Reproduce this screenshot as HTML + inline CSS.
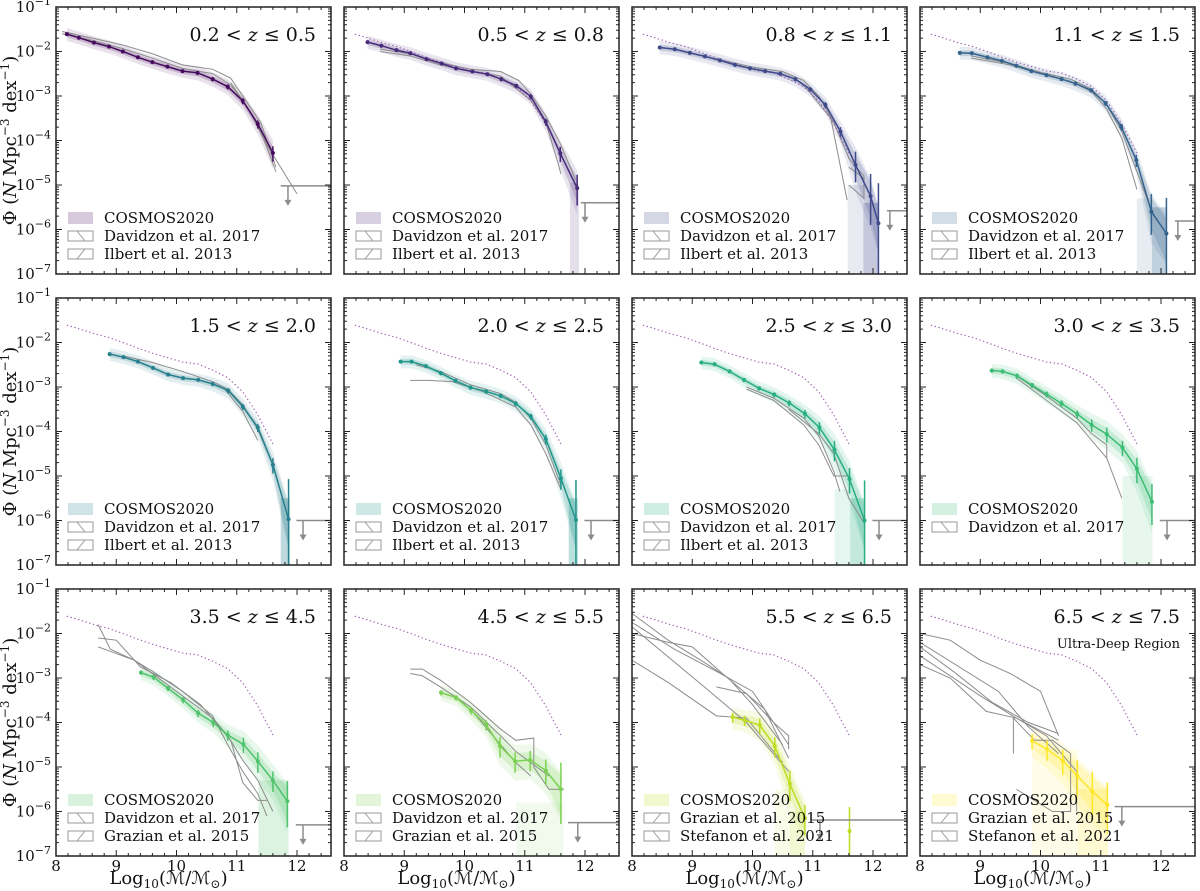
<!DOCTYPE html>
<html><head><meta charset="utf-8"><title>Stellar mass functions</title>
<style>
html,body{margin:0;padding:0;background:#fff;}
svg{display:block;font-family:"DejaVu Serif","Liberation Serif",serif;}
</style></head>
<body>
<svg id="chart" xmlns="http://www.w3.org/2000/svg" width="1200" height="891" viewBox="0 0 1200 891"></svg>
<script>
// ---- data (log10 mass, log10 Phi) ----
const zLabels = ["0.2","0.5","0.8","1.1","1.5","2.0","2.5","3.0","3.5","4.5","5.5","6.5","7.5"];
const colors = ["#460b5e","#472b7a","#3f4a8a","#33628d","#277f8e","#1f968b","#27ad81","#3dbc74","#4ec36b","#7ad151","#bcdd22","#fde725"];
const refMass = [8.18,8.38,8.63,8.88,9.11,9.36,9.6,9.85,10.1,10.35,10.6,10.85,11.1,11.35,11.6];
const refPhi = [-1.61,-1.69,-1.80,-1.89,-2.00,-2.13,-2.24,-2.34,-2.44,-2.48,-2.62,-2.79,-3.11,-3.63,-4.28];
const cosmosMass = [
 [8.18,8.38,8.63,8.88,9.11,9.36,9.6,9.85,10.1,10.35,10.6,10.85,11.1,11.35,11.6],
 [8.39,8.62,8.87,9.1,9.37,9.62,9.86,10.13,10.38,10.61,10.86,11.1,11.35,11.59,11.87],
 [8.46,8.71,8.96,9.21,9.46,9.71,9.96,10.21,10.46,10.71,10.96,11.21,11.46,11.71,11.96,12.09],
 [8.66,8.86,9.12,9.36,9.6,9.85,10.1,10.35,10.58,10.84,11.08,11.34,11.59,11.84,12.09],
 [8.89,9.12,9.36,9.61,9.86,10.11,10.36,10.6,10.86,11.1,11.35,11.6,11.86],
 [8.94,9.12,9.36,9.61,9.85,10.1,10.36,10.6,10.85,11.1,11.35,11.6,11.85],
 [9.15,9.37,9.62,9.86,10.11,10.36,10.61,10.87,11.11,11.36,11.61,11.86],
 [9.19,9.37,9.61,9.86,10.1,10.35,10.61,10.85,11.1,11.36,11.6,11.85],
 [9.41,9.62,9.86,10.11,10.36,10.61,10.85,11.11,11.35,11.6,11.84],
 [9.61,9.86,10.11,10.36,10.59,10.84,11.09,11.35,11.6],
 [9.67,9.87,10.12,10.37,10.62,10.87],
 [9.86,10.11,10.37,10.61,10.86,11.11]
];
const cosmosPhi = [
 [-1.61,-1.69,-1.80,-1.89,-2.00,-2.13,-2.24,-2.34,-2.44,-2.48,-2.62,-2.79,-3.11,-3.63,-4.28],
 [-1.79,-1.87,-1.97,-2.04,-2.17,-2.27,-2.38,-2.45,-2.51,-2.62,-2.77,-3.01,-3.58,-4.29,-5.07],
 [-1.91,-1.95,-2.03,-2.11,-2.20,-2.30,-2.38,-2.44,-2.50,-2.62,-2.85,-3.20,-3.80,-4.55,-5.25,-5.86],
 [-2.03,-2.04,-2.13,-2.21,-2.32,-2.44,-2.53,-2.62,-2.72,-2.87,-3.16,-3.69,-4.44,-5.60,-6.09],
 [-2.26,-2.33,-2.43,-2.57,-2.72,-2.80,-2.84,-2.93,-3.08,-3.44,-3.91,-4.75,-5.97],
 [-2.43,-2.43,-2.53,-2.69,-2.86,-3.01,-3.10,-3.20,-3.37,-3.66,-4.17,-5.05,-5.99],
 [-2.45,-2.49,-2.65,-2.84,-3.03,-3.17,-3.36,-3.60,-3.91,-4.41,-5.07,-6.00],
 [-2.63,-2.65,-2.75,-2.96,-3.16,-3.37,-3.61,-3.85,-4.06,-4.36,-4.84,-5.58],
 [-2.88,-2.98,-3.23,-3.49,-3.79,-4.00,-4.28,-4.49,-4.87,-5.30,-5.77],
 [-3.33,-3.44,-3.73,-4.05,-4.53,-4.87,-4.84,-5.08,-5.50],
 [-3.88,-3.95,-4.06,-4.53,-5.38,-6.15],
 [-4.41,-4.60,-4.86,-5.20,-5.55,-5.85]
];
const cosmosErr = [
 [.03,.03,.03,.03,.03,.03,.03,.03,.03,.04,.04,.05,.06,.08,.15],
 [.03,.03,.03,.03,.03,.03,.03,.03,.03,.04,.04,.05,.07,.15,.3],
 [.03,.03,.03,.03,.03,.03,.03,.03,.03,.04,.04,.06,.1,.3,.5,.9],
 [.03,.03,.03,.03,.03,.03,.03,.03,.04,.04,.05,.07,.12,.4,.8],
 [.03,.03,.03,.03,.03,.03,.03,.04,.05,.06,.08,.15,.9],
 [.03,.03,.03,.03,.03,.04,.04,.04,.05,.06,.1,.2,.9],
 [.03,.03,.03,.04,.04,.05,.06,.08,.12,.2,.25,.9],
 [.04,.04,.05,.05,.06,.07,.08,.12,.15,.15,.25,.4],
 [.04,.05,.05,.06,.07,.08,.1,.15,.2,.2,.45],
 [.05,.05,.07,.1,.2,.2,.2,.25,.6],
 [.1,.1,.15,.2,.3,.3],
 [.15,.2,.25,.35,.45,.5]
];
// tail shaded columns: [massFrom, massTo, topLog, opacity]
const tailBands = [
 [],
 [[11.75,11.9,-4.95,0.15]],
 [[11.58,11.84,-5.0,0.12],[11.84,12.1,-5.4,0.3]],
 [[11.6,11.85,-5.3,0.12],[11.85,12.1,-5.5,0.3]],
 [[11.73,11.88,-5.5,0.3]],
 [[11.73,11.88,-5.5,0.3]],
 [[11.36,11.62,-5.3,0.12],[11.62,11.87,-5.5,0.28]],
 [[11.36,11.86,-5.0,0.12]],
 [[11.36,11.86,-5.3,0.2]],
 [[10.86,11.64,-5.8,0.1]],
 [[10.37,10.62,-5.5,0.1],[10.62,10.87,-6.0,0.2]],
 [[9.86,10.62,-4.6,0.1],[10.62,11.12,-5.5,0.2]]
];
// upper limits: [massFrom, log, arrowMass]
const upperLimits = [
 [11.73,-5.02,11.85],[11.93,-5.40,12.0],[12.23,-5.58,12.28],[12.23,-5.81,12.28],
 [11.99,-6.0,12.1],[11.99,-6.0,12.1],[11.99,-6.0,12.1],[11.98,-6.0,12.1],
 [11.98,-6.30,12.1],[11.72,-6.25,11.88],[10.98,-6.19,11.12],[11.23,-5.89,11.35]
];
const greyLines = [
 [[[8.1,-1.55],[8.6,-1.7],[9.1,-1.85],[9.6,-2.05],[10.1,-2.3],[10.6,-2.4],[10.9,-2.6],[11.1,-3.0],[11.4,-3.6],[11.65,-4.6]],
  [[8.1,-1.6],[8.6,-1.75],[9.1,-1.93],[9.6,-2.15],[10.1,-2.38],[10.6,-2.5],[10.9,-2.75],[11.15,-3.2],[11.4,-3.8],[11.65,-4.7]],
  [[10.9,-2.7],[11.2,-3.3],[11.5,-4.1],[12.0,-5.2]]],
 [[[8.6,-1.95],[9.1,-2.05],[9.6,-2.25],[10.1,-2.4],[10.6,-2.45],[10.9,-2.65],[11.1,-2.95],[11.35,-3.45],[11.6,-4.1],[11.85,-4.9]],
  [[8.6,-2.0],[9.1,-2.1],[9.6,-2.3],[10.1,-2.45],[10.6,-2.55],[11.1,-3.1],[11.35,-3.6],[11.55,-4.5],[11.6,-4.75]]],
 [[[9.0,-2.05],[9.5,-2.2],[10.0,-2.35],[10.5,-2.45],[10.85,-2.65],[11.1,-3.0],[11.35,-3.6],[11.6,-4.4],[11.85,-4.8],[11.85,-5.1]],
  [[10.85,-2.75],[11.3,-3.5],[11.57,-5.34]],
  [[11.6,-4.6],[11.85,-4.85],[11.85,-5.3],[11.6,-5.0]]],
 [[[8.85,-2.1],[9.5,-2.27],[10.0,-2.47],[10.5,-2.62],[10.85,-2.85],[11.1,-3.2],[11.35,-3.8],[11.6,-4.7],[11.85,-5.6]],
  [[8.85,-2.15],[9.5,-2.3],[10.0,-2.5],[10.5,-2.67],[10.85,-2.9],[11.1,-3.3],[11.35,-3.95],[11.6,-5.1]]],
 [[[9.1,-2.3],[9.6,-2.45],[10.1,-2.65],[10.6,-2.88],[10.85,-3.05],[11.1,-3.4],[11.35,-3.95],[11.6,-4.75]],
  [[10.8,-3.05],[11.1,-3.55],[11.35,-4.2]]],
 [[[9.2,-2.5],[9.6,-2.65],[10.1,-2.95],[10.6,-3.15],[10.85,-3.35],[11.1,-3.7],[11.35,-4.3],[11.6,-5.2]],
  [[9.1,-2.85],[9.4,-2.85],[9.8,-2.88],[10.3,-3.1],[10.85,-3.45],[11.1,-3.85],[11.35,-4.5],[11.6,-5.3]]],
 [[[9.9,-3.0],[10.35,-3.25],[10.85,-3.7],[11.1,-4.1],[11.35,-4.9],[11.45,-5.35]],
  [[9.9,-3.05],[10.35,-3.3],[10.85,-3.85],[11.1,-4.3],[11.35,-5.0],[11.6,-5.0]],
  [[10.6,-3.5],[11.1,-4.05],[11.35,-4.5],[11.6,-5.5],[11.85,-6.05]]],
 [[[9.6,-2.75],[10.1,-3.2],[10.6,-3.7],[10.85,-4.05],[11.1,-4.3],[11.1,-4.6]],
  [[9.6,-2.8],[10.1,-3.3],[10.6,-3.8],[10.85,-4.2],[11.1,-4.6],[11.35,-5.5]]],
 [[[8.7,-1.8],[8.9,-2.35],[9.3,-2.6],[9.6,-2.9],[10.1,-3.4],[10.6,-3.9],[10.85,-4.3],[11.1,-4.85],[11.35,-5.3],[11.6,-6.0]],
  [[8.7,-2.3],[8.9,-2.4],[9.3,-2.6],[9.6,-2.85],[10.1,-3.3],[10.6,-3.85],[10.85,-4.5],[11.1,-5.1],[11.35,-5.6],[11.5,-6.1]],
  [[8.7,-2.1],[9.0,-2.15],[9.4,-2.75],[9.9,-3.1],[10.4,-3.6],[10.9,-4.4],[11.1,-5.35],[11.35,-5.75],[11.5,-5.75]]],
 [[[9.1,-2.8],[9.3,-2.8],[9.6,-3.05],[10.1,-3.55],[10.6,-4.15],[10.85,-4.4],[11.15,-4.35],[11.15,-5.0],[11.4,-5.5],[11.65,-5.5]],
  [[9.1,-2.9],[9.3,-2.95],[9.6,-3.2],[10.1,-3.65],[10.6,-4.3],[10.85,-4.65],[11.1,-4.9],[11.4,-5.2]],
  [[10.1,-3.7],[10.6,-4.5],[10.85,-4.9],[11.1,-5.2]]],
 [[[8,-1.55],[8.6,-2.15],[9.2,-2.65],[9.6,-3.0],[10.0,-3.6],[10.5,-4.5]],
  [[8,-2.0],[8.6,-2.2],[9.0,-2.3],[9.5,-2.9],[10.2,-3.7],[10.6,-4.8]],
  [[8,-2.6],[8.6,-3.1],[9.4,-3.85],[9.9,-3.9],[10.5,-4.9]],
  [[8,-1.85],[9.2,-3.2],[9.9,-4.0],[10.6,-5.1]],
  [[8,-1.75],[8.7,-2.35],[9.4,-2.85],[10.0,-3.3],[10.5,-4.3],[10.6,-4.5]],
  [[9.4,-3.2],[9.9,-3.35],[10.35,-4.0],[10.6,-4.3],[10.6,-4.6]]],
 [[[8,-2.0],[8.5,-2.15],[9.0,-2.6],[9.5,-2.9],[10.0,-3.3],[10.3,-4.3]],
  [[8,-2.3],[8.6,-2.9],[9.2,-3.55],[9.8,-4.0],[10.3,-4.25]],
  [[8,-2.5],[9,-3.4],[9.6,-3.9],[10.3,-4.4]],
  [[8,-2.7],[8.5,-3.0],[9.1,-3.75],[9.6,-3.9],[10.1,-4.3],[10.6,-5.1],[10.6,-6.0]],
  [[8,-2.2],[9.3,-3.3],[9.8,-4.1],[10.3,-4.7]],
  [[9.55,-4.7],[9.55,-3.9],[9.9,-4.4],[10.2,-4.4],[10.5,-4.7],[10.5,-6.0],[10.2,-6.0],[9.6,-5.5]]]
];
const legendSecond = ["Davidzon et al. 2017","Davidzon et al. 2017","Davidzon et al. 2017","Davidzon et al. 2017","Davidzon et al. 2017","Davidzon et al. 2017","Davidzon et al. 2017","Davidzon et al. 2017","Davidzon et al. 2017","Davidzon et al. 2017","Grazian et al. 2015","Grazian et al. 2015"];
const legendThird = ["Ilbert et al. 2013","Ilbert et al. 2013","Ilbert et al. 2013","Ilbert et al. 2013","Ilbert et al. 2013","Ilbert et al. 2013","Ilbert et al. 2013","","Grazian et al. 2015","Grazian et al. 2015","Stefanon et al. 2021","Stefanon et al. 2021"];
const xTicks = [8,9,10,11,12];
const yTicks = [-1,-2,-3,-4,-5,-6,-7];

// ---- layout ----
const NS="http://www.w3.org/2000/svg";
const svg=document.getElementById('chart');
const colX=[56,344,632,920], rowY=[7,298,589], W=275, H=267;
const PXM=60.25, PXD=44.5;
function mk(tag,attrs,parent){const e=document.createElementNS(NS,tag);for(const k in attrs)e.setAttribute(k,attrs[k]);(parent||svg).appendChild(e);return e;}
const defs=mk('defs',{});

for(let p=0;p<12;p++){
  const L=colX[p%4], T=rowY[Math.floor(p/4)];
  const xs=m=>L+(m-8)*PXM, ys=v=>T+(-1-v)*PXD;
  const g=mk('g',{});
  
  
  const cp=mk('clipPath',{id:'cp'+p},defs);
  mk('rect',{x:L,y:T,width:W,height:H},cp);
  const plot=mk('g',{'clip-path':'url(#cp'+p+')'},g);
  const col=colors[p];
  const M=cosmosMass[p], V=cosmosPhi[p], E=cosmosErr[p];
  tailBands[p].forEach(b=>{
    const r=mk('rect',{x:xs(b[0]),y:ys(b[2]),width:xs(b[1])-xs(b[0]),height:T+H-ys(b[2]),fill:col,'fill-opacity':b[3]},plot);
    
    
  });
  // error bands [scale, offset, opacity]
  [[1.3,0.1,0.12],[0.7,0.04,0.2]].forEach(s=>{
    let up='',lo='';
    for(let i=0;i<M.length;i++){up+=(i?'L':'M')+xs(M[i])+','+ys(V[i]+Math.min(E[i]*s[0],0.3)+s[1]);}
    for(let i=M.length-1;i>=0;i--){lo+='L'+xs(M[i])+','+ys(V[i]-Math.min(E[i]*s[0]*1.3,0.6)-s[1]);}
    const band=mk('path',{d:up+lo+'Z',fill:col,'fill-opacity':s[2],stroke:'none'},plot);
    
    
  });
  greyLines[p].forEach(line=>{
    const d=line.map((q,i)=>(i?'L':'M')+xs(q[0])+','+ys(q[1])).join('');
    const gl=mk('path',{d:d,fill:'none',stroke:'#8c8c8c','stroke-width':1},plot);
    
    
  });
  if(p>0){
    const d=refMass.map((m,i)=>(i?'L':'M')+xs(m)+','+ys(refPhi[i])).join('');
    const rl=mk('path',{d:d,fill:'none',stroke:'#a05fb0','stroke-width':1.2,'stroke-dasharray':'1.3,2.6'},plot);
    
    
  }
  const d=M.map((m,i)=>(i?'L':'M')+xs(m)+','+ys(V[i])).join('');
  const cl=mk('path',{d:d,fill:'none',stroke:col,'stroke-width':1.5},plot);
  
  
  for(let i=0;i<M.length;i++){
    const eb=mk('line',{x1:xs(M[i]),x2:xs(M[i]),y1:ys(V[i]+E[i]),y2:ys(V[i]-E[i]*1.3),stroke:col,'stroke-width':1.5},plot);
    
    
    const pt=mk('circle',{cx:xs(M[i]),cy:ys(V[i]),r:2,fill:col},plot);
    
    
  }
  if(p===10){
    const pm=11.61, pv=-6.44;
    const eb=mk('line',{x1:xs(pm),x2:xs(pm),y1:ys(-5.9),y2:ys(-7.2),stroke:col,'stroke-width':1.5},plot);
    
    
    const pt=mk('circle',{cx:xs(pm),cy:ys(pv),r:2,fill:col},plot);
    
    
  }
  const u=upperLimits[p];
  const ul=mk('path',{d:'M'+xs(u[0])+','+ys(u[1])+'H'+(L+W)+'M'+xs(u[2])+','+ys(u[1])+'V'+(ys(u[1])+16),stroke:'#8c8c8c','stroke-width':1.5,fill:'none'},plot);
  
  
  const ah=mk('path',{d:'M'+(xs(u[2])-3.5)+','+(ys(u[1])+14)+'L'+(xs(u[2])+3.5)+','+(ys(u[1])+14)+'L'+xs(u[2])+','+(ys(u[1])+20)+'Z',fill:'#8c8c8c'},plot);
  
  
  const fr=mk('rect',{x:L,y:T,width:W,height:H,fill:'none',stroke:'#222','stroke-width':1.5},g);
  
  
  let td='';
  for(let m=8;m<=12.55;m+=0.2){const x=xs(m);const major=Math.abs(m-Math.round(m))<1e-6;const l=major?6:3;td+='M'+x+','+(T+H)+'v'+(-l)+'M'+x+','+T+'v'+l;}
  for(let dcd=-7;dcd<=-1;dcd++){td+='M'+L+','+ys(dcd)+'h6M'+(L+W)+','+ys(dcd)+'h-6';
    if(dcd<-1)for(let k=2;k<10;k++){const y=ys(dcd+Math.log10(k));td+='M'+L+','+y+'h3M'+(L+W)+','+y+'h-3';}}
  const tk=mk('path',{d:td,stroke:'#222','stroke-width':1,fill:'none'},g);
  
  
  const tt=mk('text',{x:L+260,y:T+34,'text-anchor':'end','font-size':19,fill:'#111'},g);
  
  
  tt.innerHTML=zLabels[p]+' &lt; <tspan font-style="italic">z</tspan> ≤ '+zLabels[p+1];
  if(p===11){const ud=mk('text',{x:L+260,y:T+59,'text-anchor':'end','font-size':13,fill:'#111'},g);
    
    
    ud.textContent='Ultra-Deep Region';}
  const lg=mk('g',{},g);
  
  
  const entries=['COSMOS2020',legendSecond[p],legendThird[p]].filter(s=>s);
  entries.forEach((txt,i)=>{
    const cy=T+211+i*18;
    if(i===0){const sw=mk('rect',{x:L+12,y:cy-6,width:25,height:12,fill:col,'fill-opacity':0.22},lg);
      }
    else{const sw=mk('path',{d:'M'+(L+12)+','+(cy-5)+'h25v10h-25z'+(txt.indexOf('Ilbert')>=0||txt.indexOf('Grazian')>=0?'M'+(L+21)+','+(cy+5)+'l8,-10':'M'+(L+21)+','+(cy-5)+'l8,10'),fill:'none',stroke:'#999','stroke-width':1},lg);
      }
    const t=mk('text',{x:L+48,y:cy+5,'font-size':15,fill:'#111'},lg);
    
    
    t.textContent=txt;
  });
  if(p%4===0){
    yTicks.forEach(v=>{const t=mk('text',{x:L-5,y:ys(v)+5,'text-anchor':'end','font-size':15,fill:'#111'},svg);
      
      
      t.innerHTML='10<tspan dy="-7" font-size="11">−'+(-v)+'</tspan>';});
    const yl=mk('text',{x:0,y:0,transform:'translate(16,'+(T+H/2)+') rotate(-90)','text-anchor':'middle','font-size':18,fill:'#111'},svg);
    
    
    yl.innerHTML='Φ (<tspan font-style="italic">N</tspan> Mpc<tspan dy="-7" font-size="12">−3</tspan><tspan dy="7"> dex</tspan><tspan dy="-7" font-size="12">−1</tspan><tspan dy="7">)</tspan>';
  }
  if(p>=8){
    xTicks.forEach(m=>{const t=mk('text',{x:xs(m),y:871,'text-anchor':'middle','font-size':15,fill:'#111'},svg);
      
      
      t.textContent=m;});
    const xl=mk('text',{x:L+W/2-25,y:884,'text-anchor':'middle','font-size':18,fill:'#111'},svg);
    
    
    xl.innerHTML='Log<tspan dy="4" font-size="12">10</tspan><tspan dy="-4">(ℳ/ℳ</tspan><tspan dy="4" font-size="12">⊙</tspan><tspan dy="-4">)</tspan>';
  }
}
</script>
</body></html>
